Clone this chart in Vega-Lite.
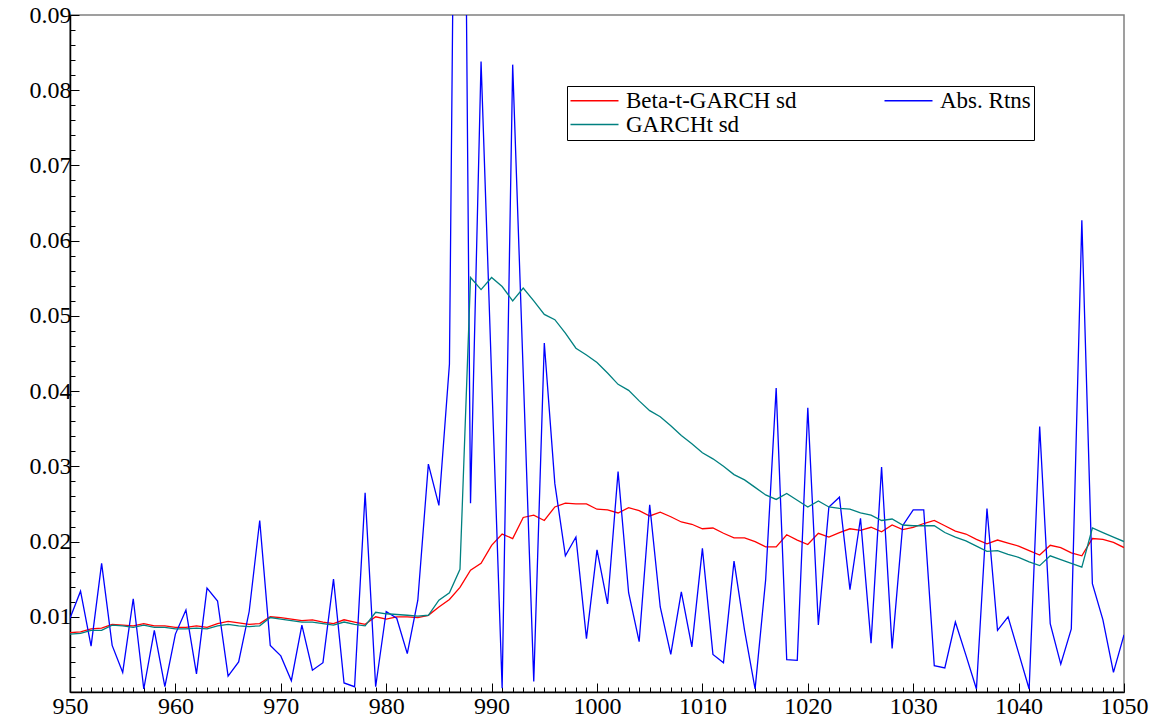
{
  "$schema": "https://vega.github.io/schema/vega-lite/v6.json",
  "width": 1054,
  "height": 677,
  "autosize": {"type": "none"},
  "padding": {"left": 70, "top": 15, "right": 31, "bottom": 27},
  "background": "white",
  "config": {
    "view": {"stroke": "#808080", "strokeWidth": 1.5},
    "font": "Liberation Serif"
  },
  "data": {
    "values": [
      {"t": 950, "a": 0.0098, "b": 0.0079, "g": 0.0077},
      {"t": 951, "a": 0.0134, "b": 0.0080, "g": 0.0078},
      {"t": 952, "a": 0.0061, "b": 0.0084, "g": 0.0082},
      {"t": 953, "a": 0.0171, "b": 0.0085, "g": 0.0082},
      {"t": 954, "a": 0.0062, "b": 0.0090, "g": 0.0089},
      {"t": 955, "a": 0.0026, "b": 0.0089, "g": 0.0088},
      {"t": 956, "a": 0.0124, "b": 0.0088, "g": 0.0086},
      {"t": 957, "a": 0.0004, "b": 0.0091, "g": 0.0089},
      {"t": 958, "a": 0.0082, "b": 0.0088, "g": 0.0086},
      {"t": 959, "a": 0.0007, "b": 0.0088, "g": 0.0086},
      {"t": 960, "a": 0.0077, "b": 0.0086, "g": 0.0084},
      {"t": 961, "a": 0.0109, "b": 0.0086, "g": 0.0084},
      {"t": 962, "a": 0.0024, "b": 0.0088, "g": 0.0085},
      {"t": 963, "a": 0.0138, "b": 0.0086, "g": 0.0084},
      {"t": 964, "a": 0.0121, "b": 0.0091, "g": 0.0088},
      {"t": 965, "a": 0.0021, "b": 0.0094, "g": 0.0090},
      {"t": 966, "a": 0.0040, "b": 0.0092, "g": 0.0088},
      {"t": 967, "a": 0.0107, "b": 0.0090, "g": 0.0087},
      {"t": 968, "a": 0.0228, "b": 0.0091, "g": 0.0088},
      {"t": 969, "a": 0.0062, "b": 0.0100, "g": 0.0099},
      {"t": 970, "a": 0.0048, "b": 0.0099, "g": 0.0097},
      {"t": 971, "a": 0.0015, "b": 0.0097, "g": 0.0095},
      {"t": 972, "a": 0.0089, "b": 0.0095, "g": 0.0093},
      {"t": 973, "a": 0.0029, "b": 0.0096, "g": 0.0093},
      {"t": 974, "a": 0.0039, "b": 0.0093, "g": 0.0091},
      {"t": 975, "a": 0.0150, "b": 0.0091, "g": 0.0089},
      {"t": 976, "a": 0.0012, "b": 0.0096, "g": 0.0093},
      {"t": 977, "a": 0.0007, "b": 0.0093, "g": 0.0090},
      {"t": 978, "a": 0.0265, "b": 0.0090, "g": 0.0088},
      {"t": 979, "a": 0.0007, "b": 0.0100, "g": 0.0106},
      {"t": 980, "a": 0.0107, "b": 0.0097, "g": 0.0104},
      {"t": 981, "a": 0.0098, "b": 0.0100, "g": 0.0103},
      {"t": 982, "a": 0.0051, "b": 0.0100, "g": 0.0102},
      {"t": 983, "a": 0.0122, "b": 0.0099, "g": 0.0101},
      {"t": 984, "a": 0.0303, "b": 0.0102, "g": 0.0102},
      {"t": 985, "a": 0.0248, "b": 0.0113, "g": 0.0122},
      {"t": 986, "a": 0.0436, "b": 0.0123, "g": 0.0132},
      {"t": 987, "a": 0.1950, "b": 0.0139, "g": 0.0163},
      {"t": 988, "a": 0.0251, "b": 0.0162, "g": 0.0551},
      {"t": 989, "a": 0.0838, "b": 0.0171, "g": 0.0535},
      {"t": 990, "a": 0.0420, "b": 0.0195, "g": 0.0551},
      {"t": 991, "a": 0.0005, "b": 0.0210, "g": 0.0539},
      {"t": 992, "a": 0.0834, "b": 0.0204, "g": 0.0520},
      {"t": 993, "a": 0.0424, "b": 0.0232, "g": 0.0537},
      {"t": 994, "a": 0.0014, "b": 0.0235, "g": 0.0520},
      {"t": 995, "a": 0.0464, "b": 0.0228, "g": 0.0502},
      {"t": 996, "a": 0.0277, "b": 0.0246, "g": 0.0495},
      {"t": 997, "a": 0.0181, "b": 0.0251, "g": 0.0477},
      {"t": 998, "a": 0.0206, "b": 0.0250, "g": 0.0457},
      {"t": 999, "a": 0.0071, "b": 0.0250, "g": 0.0448},
      {"t": 1000, "a": 0.0189, "b": 0.0243, "g": 0.0438},
      {"t": 1001, "a": 0.0117, "b": 0.0242, "g": 0.0424},
      {"t": 1002, "a": 0.0293, "b": 0.0238, "g": 0.0409},
      {"t": 1003, "a": 0.0132, "b": 0.0245, "g": 0.0401},
      {"t": 1004, "a": 0.0067, "b": 0.0241, "g": 0.0387},
      {"t": 1005, "a": 0.0249, "b": 0.0234, "g": 0.0374},
      {"t": 1006, "a": 0.0113, "b": 0.0239, "g": 0.0366},
      {"t": 1007, "a": 0.0050, "b": 0.0233, "g": 0.0354},
      {"t": 1008, "a": 0.0133, "b": 0.0226, "g": 0.0341},
      {"t": 1009, "a": 0.0060, "b": 0.0223, "g": 0.0330},
      {"t": 1010, "a": 0.0191, "b": 0.0217, "g": 0.0318},
      {"t": 1011, "a": 0.0050, "b": 0.0218, "g": 0.0310},
      {"t": 1012, "a": 0.0039, "b": 0.0211, "g": 0.0300},
      {"t": 1013, "a": 0.0174, "b": 0.0205, "g": 0.0289},
      {"t": 1014, "a": 0.0082, "b": 0.0205, "g": 0.0282},
      {"t": 1015, "a": 0.0004, "b": 0.0200, "g": 0.0272},
      {"t": 1016, "a": 0.0149, "b": 0.0193, "g": 0.0262},
      {"t": 1017, "a": 0.0404, "b": 0.0193, "g": 0.0256},
      {"t": 1018, "a": 0.0043, "b": 0.0209, "g": 0.0264},
      {"t": 1019, "a": 0.0042, "b": 0.0202, "g": 0.0255},
      {"t": 1020, "a": 0.0378, "b": 0.0196, "g": 0.0246},
      {"t": 1021, "a": 0.0089, "b": 0.0211, "g": 0.0254},
      {"t": 1022, "a": 0.0246, "b": 0.0206, "g": 0.0246},
      {"t": 1023, "a": 0.0259, "b": 0.0212, "g": 0.0244},
      {"t": 1024, "a": 0.0136, "b": 0.0217, "g": 0.0243},
      {"t": 1025, "a": 0.0231, "b": 0.0215, "g": 0.0238},
      {"t": 1026, "a": 0.0065, "b": 0.0219, "g": 0.0235},
      {"t": 1027, "a": 0.0299, "b": 0.0213, "g": 0.0228},
      {"t": 1028, "a": 0.0058, "b": 0.0222, "g": 0.0230},
      {"t": 1029, "a": 0.0221, "b": 0.0216, "g": 0.0222},
      {"t": 1030, "a": 0.0242, "b": 0.0219, "g": 0.0221},
      {"t": 1031, "a": 0.0242, "b": 0.0224, "g": 0.0221},
      {"t": 1032, "a": 0.0035, "b": 0.0228, "g": 0.0221},
      {"t": 1033, "a": 0.0032, "b": 0.0221, "g": 0.0212},
      {"t": 1034, "a": 0.0093, "b": 0.0214, "g": 0.0206},
      {"t": 1035, "a": 0.0049, "b": 0.0210, "g": 0.0201},
      {"t": 1036, "a": 0.0004, "b": 0.0203, "g": 0.0194},
      {"t": 1037, "a": 0.0244, "b": 0.0197, "g": 0.0187},
      {"t": 1038, "a": 0.0082, "b": 0.0202, "g": 0.0188},
      {"t": 1039, "a": 0.0100, "b": 0.0198, "g": 0.0183},
      {"t": 1040, "a": 0.0052, "b": 0.0194, "g": 0.0179},
      {"t": 1041, "a": 0.0004, "b": 0.0188, "g": 0.0173},
      {"t": 1042, "a": 0.0353, "b": 0.0182, "g": 0.0168},
      {"t": 1043, "a": 0.0091, "b": 0.0195, "g": 0.0181},
      {"t": 1044, "a": 0.0037, "b": 0.0192, "g": 0.0176},
      {"t": 1045, "a": 0.0084, "b": 0.0185, "g": 0.0171},
      {"t": 1046, "a": 0.0627, "b": 0.0181, "g": 0.0166},
      {"t": 1047, "a": 0.0144, "b": 0.0204, "g": 0.0218},
      {"t": 1048, "a": 0.0096, "b": 0.0203, "g": 0.0212},
      {"t": 1049, "a": 0.0026, "b": 0.0199, "g": 0.0206},
      {"t": 1050, "a": 0.0076, "b": 0.0192, "g": 0.0200}
    ]
  },
  "transform": [{"fold": ["b", "a", "g"], "as": ["series", "value"]}],
  "mark": {"type": "line", "clip": true, "strokeWidth": 1.3},
  "encoding": {
    "x": {
      "field": "t",
      "type": "quantitative",
      "scale": {"domain": [950, 1050], "nice": false, "zero": false},
      "axis": {
        "title": null,
        "grid": false,
        "values": [950,951,952,953,954,955,956,957,958,959,960,961,962,963,964,965,966,967,968,969,970,971,972,973,974,975,976,977,978,979,980,981,982,983,984,985,986,987,988,989,990,991,992,993,994,995,996,997,998,999,1000,1001,1002,1003,1004,1005,1006,1007,1008,1009,1010,1011,1012,1013,1014,1015,1016,1017,1018,1019,1020,1021,1022,1023,1024,1025,1026,1027,1028,1029,1030,1031,1032,1033,1034,1035,1036,1037,1038,1039,1040,1041,1042,1043,1044,1045,1046,1047,1048,1049,1050],
        "format": "d",
        "labelExpr": "datum.value % 10 === 0 ? datum.label : ''",
        "labelOverlap": false,
        "labelFlush": false,
        "labelFont": "Liberation Serif",
        "labelFontSize": 24,
        "labelColor": "black",
        "labelPadding": 11,
        "domainColor": "black",
        "domainWidth": 1.5,
        "tickColor": "black",
        "tickWidth": 1,
        "tickSize": {"condition": {"test": "datum.value % 10 === 0", "value": -9}, "value": -5}
      }
    },
    "y": {
      "field": "value",
      "type": "quantitative",
      "scale": {"domain": [0, 0.09], "nice": false, "zero": true},
      "axis": {
        "title": null,
        "grid": false,
        "values": [0,0.002,0.004,0.006,0.008,0.01,0.012,0.014,0.016,0.018,0.02,0.022,0.024,0.026,0.028,0.03,0.032,0.034,0.036,0.038,0.04,0.042,0.044,0.046,0.048,0.05,0.052,0.054,0.056,0.058,0.06,0.062,0.064,0.066,0.068,0.07,0.072,0.074,0.076,0.078,0.08,0.082,0.084,0.086,0.088,0.09],
        "labelExpr": "(datum.value > 0.0001 && abs(datum.value*100 - round(datum.value*100)) < 0.001) ? format(datum.value, '.2f') : ''",
        "labelOverlap": false,
        "labelFlush": false,
        "labelFont": "Liberation Serif",
        "labelFontSize": 24,
        "labelColor": "black",
        "labelPadding": 8,
        "domainColor": "black",
        "domainWidth": 1.5,
        "tickColor": "black",
        "tickWidth": 1,
        "tickSize": {"condition": {"test": "abs(datum.value*100 - round(datum.value*100)) < 0.001", "value": -9}, "value": -5}
      }
    },
    "color": {
      "field": "series",
      "type": "nominal",
      "scale": {"domain": ["b", "a", "g"], "range": ["#ff0000", "#0000ff", "#008080"]},
      "legend": {
        "title": null,
        "orient": "none",
        "legendX": 497,
        "legendY": 71,
        "columns": 2,
        "direction": "horizontal",
        "symbolType": "M-2.4,0H2.4",
        "symbolSize": 400,
        "symbolStrokeWidth": 1.5,
        "symbolOffset": 13,
        "labelFontSize": 23,
        "labelFont": "Liberation Serif",
        "labelColor": "black",
        "labelLimit": 400,
        "labelOffset": 20,
        "labelExpr": "datum.value == 'b' ? 'Beta-t-GARCH sd' : datum.value == 'a' ? 'Abs. Rtns' : 'GARCHt sd'",
        "strokeColor": "black",
        "fillColor": "white",
        "padding": 3,
        "columnPadding": 84,
        "rowPadding": 0
      }
    }
  }
}
